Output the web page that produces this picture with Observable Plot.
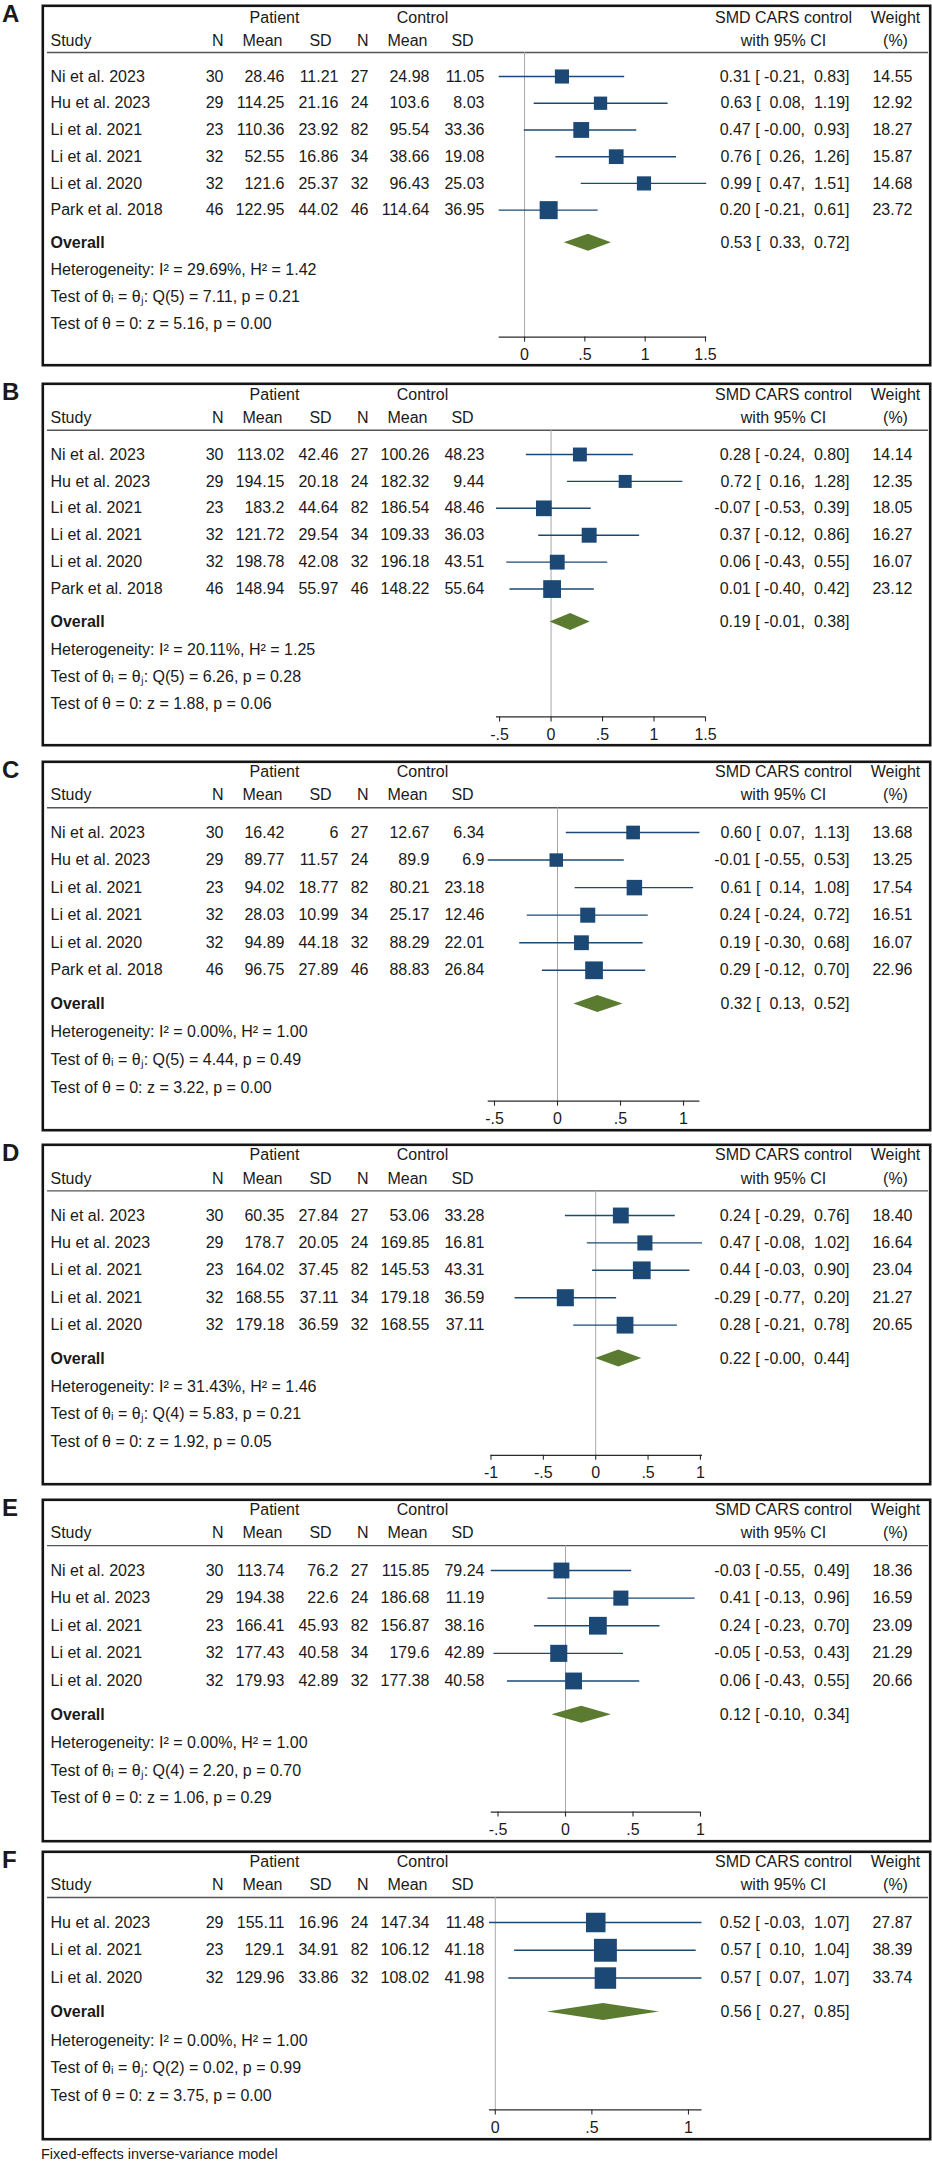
<!DOCTYPE html>
<html><head><meta charset="utf-8">
<script src="https://cdn.jsdelivr.net/npm/d3@7"></script>
<script src="https://cdn.jsdelivr.net/npm/@observablehq/plot@0.6"></script>
<style>
body{margin:0;background:#fff;}
#page{position:relative;width:932px;height:2162px;font-family:"Liberation Sans",Arial,sans-serif;color:#1a1a1a;overflow:hidden;}
.panel{position:absolute;left:41px;}
.letter{position:absolute;left:2px;font-weight:bold;font-size:24px;line-height:1;}
svg text{white-space:pre;}
#foot{position:absolute;left:41px;top:2147px;font-size:14.5px;line-height:1;}
</style></head><body><div id="page"></div>
<script>
// ---------- data ----------
const panelLabels = ["A","B","C","D","E","F"];
const six = ["Ni et al. 2023","Hu et al. 2023","Li et al. 2021","Li et al. 2021","Li et al. 2020","Park et al. 2018"];
const studies = [six, six, six, six.slice(0,5), six.slice(0,5), ["Hu et al. 2023","Li et al. 2021","Li et al. 2020"]];
const patN = [[30,29,23,32,32,46],[30,29,23,32,32,46],[30,29,23,32,32,46],[30,29,23,32,32],[30,29,23,32,32],[29,23,32]];
const patMean = [[28.46,114.25,110.36,52.55,121.6,122.95],[113.02,194.15,183.2,121.72,198.78,148.94],[16.42,89.77,94.02,28.03,94.89,96.75],[60.35,178.7,164.02,168.55,179.18],[113.74,194.38,166.41,177.43,179.93],[155.11,129.1,129.96]];
const patSD = [[11.21,21.16,23.92,16.86,25.37,44.02],[42.46,20.18,44.64,29.54,42.08,55.97],[6,11.57,18.77,10.99,44.18,27.89],[27.84,20.05,37.45,37.11,36.59],[76.2,22.6,45.93,40.58,42.89],[16.96,34.91,33.86]];
const ctlN = [[27,24,82,34,32,46],[27,24,82,34,32,46],[27,24,82,34,32,46],[27,24,82,34,32],[27,24,82,34,32],[24,82,32]];
const ctlMean = [[24.98,103.6,95.54,38.66,96.43,114.64],[100.26,182.32,186.54,109.33,196.18,148.22],[12.67,89.9,80.21,25.17,88.29,88.83],[53.06,169.85,145.53,179.18,168.55],[115.85,186.68,156.87,179.6,177.38],[147.34,106.12,108.02]];
const ctlSD = [[11.05,8.03,33.36,19.08,25.03,36.95],[48.23,9.44,48.46,36.03,43.51,55.64],[6.34,6.9,23.18,12.46,22.01,26.84],[33.28,16.81,43.31,36.59,37.11],[79.24,11.19,38.16,42.89,40.58],[11.48,41.18,41.98]];
const smd = [[0.31,0.63,0.47,0.76,0.99,0.20],[0.28,0.72,-0.07,0.37,0.06,0.01],[0.60,-0.01,0.61,0.24,0.19,0.29],[0.24,0.47,0.44,-0.29,0.28],[-0.03,0.41,0.24,-0.05,0.06],[0.52,0.57,0.57]];
const ciLow = [[-0.21,0.08,-0.002,0.26,0.47,-0.21],[-0.24,0.16,-0.53,-0.12,-0.43,-0.40],[0.07,-0.55,0.14,-0.24,-0.30,-0.12],[-0.29,-0.08,-0.03,-0.77,-0.21],[-0.55,-0.13,-0.23,-0.53,-0.43],[-0.03,0.10,0.07]];
const ciHigh = [[0.83,1.19,0.93,1.26,1.51,0.61],[0.80,1.28,0.39,0.86,0.55,0.42],[1.13,0.53,1.08,0.72,0.68,0.70],[0.76,1.02,0.90,0.20,0.78],[0.49,0.96,0.70,0.43,0.55],[1.07,1.04,1.07]];
const weight = [[14.55,12.92,18.27,15.87,14.68,23.72],[14.14,12.35,18.05,16.27,16.07,23.12],[13.68,13.25,17.54,16.51,16.07,22.96],[18.40,16.64,23.04,21.27,20.65],[18.36,16.59,23.09,21.29,20.66],[27.87,38.39,33.74]];
const overallEst = [0.53,0.19,0.32,0.22,0.12,0.56];
const overallLow = [0.33,-0.01,0.13,-0.002,-0.10,0.27];
const overallHigh = [0.72,0.38,0.52,0.44,0.34,0.85];
const hetI2 = [29.69,20.11,0.00,31.43,0.00,0.00];
const hetH2 = [1.42,1.25,1.00,1.46,1.00,1.00];
const qDf = [5,5,5,4,4,2];
const qStat = [7.11,6.26,4.44,5.83,2.20,0.02];
const qP = [0.21,0.28,0.49,0.21,0.70,0.99];
const zStat = [5.16,1.88,3.22,1.92,1.06,3.75];
const zP = [0.00,0.06,0.00,0.05,0.29,0.00];
const xTicks = [[0,0.5,1,1.5],[-0.5,0,0.5,1,1.5],[-0.5,0,0.5,1],[-1,-0.5,0,0.5,1],[-0.5,0,0.5,1],[0,0.5,1]];
const groupHeads = ["Patient","Control"];
const colHeads = ["Study","N","Mean","SD","N","Mean","SD"];
const effectHeads = ["SMD CARS control","with 95% CI"];
const weightHeads = ["Weight","(%)"];
const overallLabel = "Overall";
const footNote = "Fixed-effects inverse-variance model";

// ---------- layout ----------
const panelTop = [4,382,760,1143,1498,1850];
const panelHeight = [362,364,371,342,344,290];
const forestPx = [[498.7,706.2],[496,705],[487.7,699.4],[490.5,702],[490.75,700],[489,701.5]];
const PANEL_LEFT = 41, PANEL_W = 890, FIRST_ROW = 72;
const NAVY = "#1b4875", GREEN = "#5b7b31";
const colX = {study:9, pN:182, pMean:243, pSD:297, cN:327, cMean:388, cSD:443, ci:808, w:871};
const headX = {pGroup:233, cGroup:381, pN:182, pMean:221, pSD:279, cN:327, cMean:366, cSD:421, eff:742, w:854};

const f2 = v => v.toFixed(2);
const padNum = v => (v < 0 ? "" : " ") + f2(v);
const ciText = (e,l,h) => `${f2(e)} [ ${padNum(l)}, ${padNum(h)}]`;
const tickFmt = d => d === 0 ? "0" : String(d).replace(/^(-?)0\./, "$1.");

const page = document.getElementById("page");

panelLabels.forEach((lab, p) => {
  const n = studies[p].length;
  const H = panelHeight[p];
  const lastR = n - 1 + 5.85;
  const u = (H - FIRST_ROW) / lastR;
  const overallR = n - 1 + 1.22;
  const hetR = n - 1 + 2.25, t1R = n - 1 + 3.25, t2R = n - 1 + 4.25, axisR = n - 1 + 4.75;
  const headLineR = -0.9, groupR = -2.2, colR = -1.35;
  const ticks = xTicks[p];
  const dom = [Math.min(d3.min(ciLow[p]), d3.min(ticks)), Math.max(d3.max(ciHigh[p]), d3.max(ticks))];

  const rows = studies[p].map((s, i) => ({
    r: i, study: s, pN: patN[p][i], pMean: patMean[p][i], pSD: patSD[p][i],
    cN: ctlN[p][i], cMean: ctlMean[p][i], cSD: ctlSD[p][i],
    est: smd[p][i], lo: ciLow[p][i], hi: ciHigh[p][i], w: weight[p][i],
    ci: ciText(smd[p][i], ciLow[p][i], ciHigh[p][i]), wt: f2(weight[p][i])
  }));
  const dh = 8.5 / u;
  const diamond = [
    {y: overallR - dh, x1: overallEst[p], x2: overallEst[p]},
    {y: overallR, x1: overallLow[p], x2: overallHigh[p]},
    {y: overallR + dh, x1: overallEst[p], x2: overallEst[p]}
  ];
  const leftNotes = [
    {r: overallR, t: overallLabel, b: "bold"},
    {r: hetR, t: `Heterogeneity: I² = ${f2(hetI2[p])}%, H² = ${f2(hetH2[p])}`, b: "normal"},
    {r: t1R, t: `Test of θᵢ = θⱼ: Q(${qDf[p]}) = ${f2(qStat[p])}, p = ${f2(qP[p])}`, b: "normal"},
    {r: t2R, t: `Test of θ = 0: z = ${f2(zStat[p])}, p = ${f2(zP[p])}`, b: "normal"}
  ];
  const headers = [
    {r: groupR, t: groupHeads[0], x: headX.pGroup, a: "middle"},
    {r: groupR, t: groupHeads[1], x: headX.cGroup, a: "middle"},
    {r: colR, t: colHeads[0], x: colX.study, a: "start"},
    {r: colR, t: colHeads[1], x: headX.pN, a: "end"},
    {r: colR, t: colHeads[2], x: headX.pMean, a: "middle"},
    {r: colR, t: colHeads[3], x: headX.pSD, a: "middle"},
    {r: colR, t: colHeads[4], x: headX.cN, a: "end"},
    {r: colR, t: colHeads[5], x: headX.cMean, a: "middle"},
    {r: colR, t: colHeads[6], x: headX.cSD, a: "middle"},
    {r: groupR, t: effectHeads[0], x: headX.eff, a: "middle"},
    {r: colR, t: effectHeads[1], x: headX.eff, a: "middle"},
    {r: groupR, t: weightHeads[0], x: headX.w, a: "middle"},
    {r: colR, t: weightHeads[1], x: headX.w, a: "middle"}
  ];
  const txt = (data, text, dx, anchor, extra = {}) =>
    Plot.text(data, {frameAnchor: "left", y: "r", text, dx, textAnchor: anchor, fontSize: 16, fill: "#1a1a1a", ...extra});

  const chart = Plot.plot({
    width: PANEL_W, height: H,
    marginLeft: 0, marginRight: 0, marginTop: 0, marginBottom: 0,
    style: {fontFamily: '"Liberation Sans", Arial, sans-serif', fontSize: "16px", background: "transparent", overflow: "visible"},
    x: {domain: dom, range: [forestPx[p][0] - PANEL_LEFT, forestPx[p][1] - PANEL_LEFT], axis: null},
    y: {type: "linear", domain: [0, lastR], range: [FIRST_ROW, H], axis: null},
    r: {type: "sqrt", domain: [0, 100], range: [0, 20.87]},
    marks: [
      Plot.frame({stroke: "#151515", strokeWidth: 2.6, inset: 1.3}),
      Plot.ruleY([headLineR], {insetLeft: 6, insetRight: 3, stroke: "#555", strokeWidth: 1.4}),
      Plot.ruleX([0], {y1: headLineR, y2: axisR, stroke: "#a8a8a8", strokeWidth: 1}),
      Plot.ruleY(rows, {y: "r", x1: "lo", x2: "hi", stroke: NAVY, strokeWidth: 1.4}),
      Plot.dot(rows, {x: "est", y: "r", r: "w", symbol: "square", fill: NAVY, stroke: "none"}),
      Plot.areaX(diamond, {y: "y", x1: "x1", x2: "x2", fill: GREEN, curve: "linear"}),
      Plot.ruleY([axisR], {x1: dom[0], x2: dom[1], stroke: "#2a2a2a", strokeWidth: 1.2}),
      Plot.ruleX(ticks, {x: d => d, y1: axisR, y2: axisR + 5 / u, stroke: "#2a2a2a", strokeWidth: 1.1}),
      Plot.text(ticks, {x: d => d, y: () => axisR, dy: 17.5, text: tickFmt, fontSize: 16, fill: "#1a1a1a"}),
      ...headers.map(h => txt([h], "t", h.x, h.a)),
      txt(rows, "study", colX.study, "start"),
      txt(rows, d => String(d.pN), colX.pN, "end"),
      txt(rows, d => String(d.pMean), colX.pMean, "end"),
      txt(rows, d => String(d.pSD), colX.pSD, "end"),
      txt(rows, d => String(d.cN), colX.cN, "end"),
      txt(rows, d => String(d.cMean), colX.cMean, "end"),
      txt(rows, d => String(d.cSD), colX.cSD, "end"),
      txt(rows, "ci", colX.ci, "end"),
      txt(rows, "wt", colX.w, "end"),
      txt([{r: overallR}], () => ciText(overallEst[p], overallLow[p], overallHigh[p]), colX.ci, "end"),
      ...leftNotes.map(d => txt([d], "t", colX.study, "start", {fontWeight: d.b}))
    ]
  });
  const div = document.createElement("div");
  div.className = "panel";
  div.style.top = panelTop[p] + "px";
  div.appendChild(chart);
  page.appendChild(div);

  const letter = document.createElement("div");
  letter.className = "letter";
  letter.style.top = (panelTop[p] - 2.4) + "px";
  letter.textContent = lab;
  page.appendChild(letter);
});

const foot = document.createElement("div");
foot.id = "foot";
foot.textContent = footNote;
page.appendChild(foot);
</script></body></html>
